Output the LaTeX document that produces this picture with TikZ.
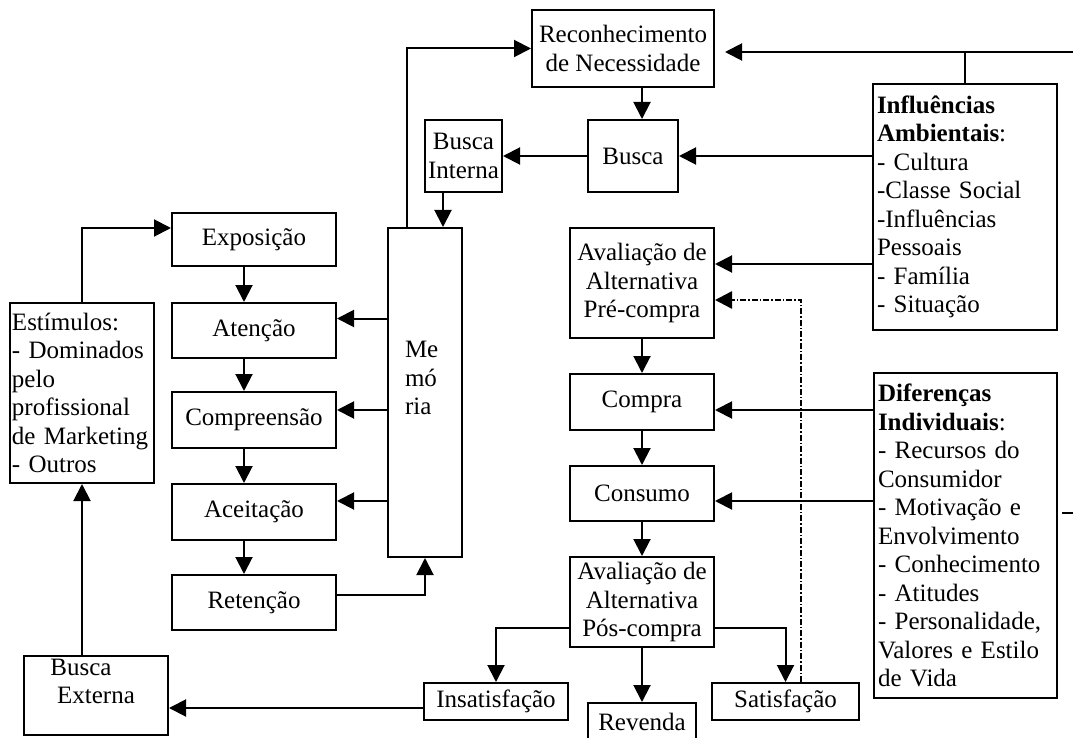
\documentclass[tikz,border=0pt]{standalone}
\usepackage{fontspec}
\setmainfont{Liberation Serif}
\usetikzlibrary{arrows.meta}

\begin{document}
\begin{tikzpicture}[x=1pt,y=-1pt]

\tikzset{box/.style = {shape=rectangle,draw,line width=2pt,inner sep=3pt,align=center,font=\fontsize{25}{28.5}\selectfont}}
\tikzset{edge/.style = {->,> = {Triangle[length=17pt,width=17pt]},line width=2pt}}
\tikzset{dotedge/.style = {edge,dash pattern=on 6pt off 2pt on 1.5pt off 2pt,line width=2.6pt}}
\useasboundingbox (0,0) rectangle (1073,738);
%boxes
\node[box, minimum width=182pt, minimum height=77pt] (recon) at (623,48.5) {Reconhecimento\\de Necessidade};
\node[box, minimum width=90pt, minimum height=72pt] (busca) at (633,156) {Busca};
\node[box, minimum width=77pt, minimum height=72pt] (buscaint) at (463.5,156) {Busca\\Interna};
\node[box, minimum width=144pt, minimum height=110pt] (avpre) at (642,283) {Avaliação de\\Alternativa\\Pré-compra};
\node[box, minimum width=144pt, minimum height=56pt] (compra) at (642,402) {Compra};
\node[box, minimum width=144pt, minimum height=55pt] (consumo) at (642,493.5) {Consumo};
\node[box, minimum width=144pt, minimum height=90pt] (avpos) at (642,602) {Avaliação de\\Alternativa\\Pós-compra};
\node[box, minimum width=108pt, minimum height=38pt] (revenda) at (642,722) {Revenda};
\node[box, minimum width=144pt, minimum height=37pt] (insat) at (496,701.5) {Insatisfação};
\node[box, minimum width=147pt, minimum height=37pt] (satisf) at (785.5,701.5) {Satisfação};
\node[box, minimum width=144pt, minimum height=75pt] (buscaext) at (96,695.5) {Busca\hspace*{30pt}\\Externa\hspace*{30pt}\\\mbox{}};
\node[box, align=left, text width=140pt, inner xsep=2pt, minimum height=180pt] (estim) at (82,393) {Estímulos:\\- Dominados\\pelo\\profissional\\\mbox{de Marketing}\\- Outros};
\node[box, minimum width=164pt, minimum height=53pt] (expo) at (254,239.5) {Exposição};
\node[box, minimum width=164pt, minimum height=55pt] (atenc) at (254,330.5) {Atenção};
\node[box, minimum width=164pt, minimum height=56pt] (compr) at (254,420) {Compreensão};
\node[box, minimum width=164pt, minimum height=56pt] (aceit) at (254,512) {Aceitação};
\node[box, minimum width=164pt, minimum height=55pt] (reten) at (254,602.5) {Retenção};
\node[box, align=left, text width=40pt, inner xsep=17pt, minimum height=329pt] (memoria) at (425,392.5) {Me\\mó\\ria\\\mbox{}};
\node[box, align=left, text width=176pt, inner xsep=4pt, minimum height=246pt] (influ) at (965,207) {\textbf{Influências}\\\textbf{Ambientais}:\\- Cultura\\-Classe Social\\-Influências\\Pessoais\\- Família\\- Situação};
\node[box, align=left, text width=175pt, inner xsep=4pt, minimum height=325pt] (difer) at (965.5,535.5) {\textbf{Diferenças}\\\textbf{Individuais}:\\- Recursos do\\Consumidor\\- Motivação e\\Envolvimento\\- Conhecimento\\- Atitudes\\- Personalidade,\\Valores e Estilo\\de Vida};
\coordinate (rim) at (1073,52);
\coordinate (rim2) at (1073,513);
\coordinate (memin) at ([xshift=-20pt]memoria.north east);
%edges
\draw[edge] (recon.south -| avpre.north) -- (busca.north -| avpre.north);
\draw[edge] (busca) -- (buscaint);
\draw[edge] (buscaint.south -| memin) -- (memin);
\draw[edge] ([xshift=20pt]memoria.north west) |- (recon.west);
\draw[edge] (rim) -- ([xshift=10pt]rim -| recon.east);
\draw[line width=2pt] (influ.north) -- (influ.north |- rim);
\draw[line width=2pt] (rim2) -- ++(-11,0);
\draw[edge] (influ.west |- busca) -- (busca.east);
\draw[edge] ([yshift=19pt]avpre.east -| influ.west) -- ([yshift=19pt]avpre.east);
\draw[dotedge] ([xshift=15.5pt]satisf.north) |- ([yshift=-17pt]avpre.east);
\draw[edge] (avpre) -- (compra);
\draw[edge] (compra) -- (consumo);
\draw[edge] (consumo) -- (avpos);
\draw[edge] (avpos) -- (revenda);
\draw[edge] ([yshift=-8pt]compra.east -| difer.west) -- ([yshift=-8pt]compra.east);
\draw[edge] ([yshift=-7.5pt]consumo.east -| difer.west) -- ([yshift=-7.5pt]consumo.east);
\draw[edge] ([yshift=-26pt]avpos.west) -| (insat.north);
\draw[edge] ([yshift=-26pt]avpos.east) -| (satisf.north);
\draw[edge] ([yshift=-6.5pt]insat.west) -- ([yshift=-6.5pt]insat.west -| buscaext.east);
\draw[edge] (buscaext.north -| estim.south) -- (estim.south);
\draw[edge] (estim.north) |- ([yshift=11.5pt]expo.west);
\foreach \a/\b in {expo/atenc, atenc/compr, compr/aceit, aceit/reten}
  \draw[edge] ([xshift=-10pt]\a.south) -- ([xshift=-10pt]\a.south |- \b.north);
\foreach \b/\s in {atenc/12, compr/10, aceit/11}
  \draw[edge] ([yshift=\s pt]\b.east -| memoria.west) -- ([yshift=\s pt]\b.east);
\draw[edge] ([yshift=8pt]reten.east) -| (memoria.south);

\end{tikzpicture}
\end{document}
